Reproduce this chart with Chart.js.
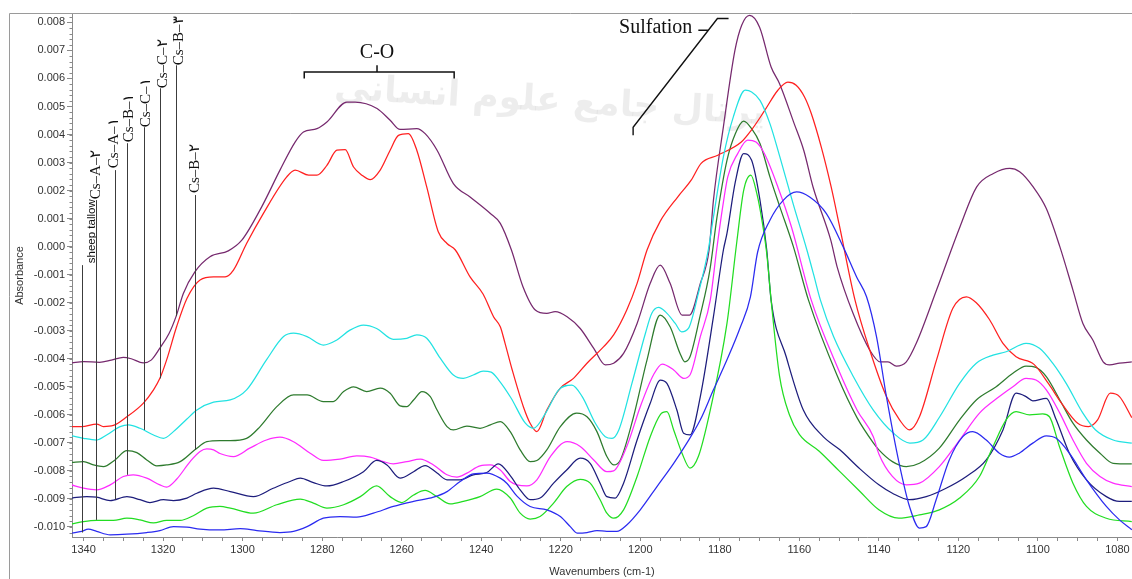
<!DOCTYPE html>
<html><head><meta charset="utf-8">
<script src="https://cdn.jsdelivr.net/npm/chart.js@4.4.0/dist/chart.umd.min.js"></script>
<style>html,body{margin:0;padding:0;background:#fff;overflow:hidden}#wrap{position:relative;width:1132px;height:579px}canvas{display:block}</style>
</head><body><div id="wrap"><canvas id="c" width="1132" height="579"></canvas></div>
<script>
// ---- Data: [wavenumber (cm-1), absorbance] ----
const sheepTallow = [[1343,-0.01022],[1340.5,-0.01016],[1338.8,-0.01008],[1336.7,-0.01016],[1333.3,-0.01028],[1329.1,-0.01026],[1324.1,-0.0102],[1320.8,-0.01013],[1317.4,-0.00999],[1314,-0.01001],[1310.7,-0.01008],[1305.7,-0.01011],[1300.6,-0.01006],[1296.4,-0.01013],[1290.6,-0.0102],[1287.2,-0.01016],[1283.8,-0.00999],[1279.7,-0.00969],[1275.5,-0.00963],[1271.3,-0.00965],[1267.1,-0.00951],[1262.1,-0.00927],[1257,-0.00909],[1252,-0.00894],[1248.6,-0.00874],[1245.3,-0.00838],[1242,-0.00811],[1238.6,-0.00808],[1235.2,-0.00826],[1233.5,-0.00845],[1231,-0.0089],[1227.7,-0.00927],[1223.5,-0.00939],[1220.1,-0.00963],[1217.6,-0.00999],[1215.9,-0.01022],[1213.4,-0.0102],[1210.9,-0.01013],[1208.4,-0.01016],[1205.9,-0.01016],[1203.4,-0.00993],[1200,-0.00939],[1195.8,-0.00856],[1191.6,-0.00773],[1188.3,-0.00701],[1184.9,-0.00618],[1181.6,-0.00511],[1178.2,-0.00404],[1174.8,-0.00286],[1172.3,-0.00179],[1170.5,-0.0002],[1167.4,0.00094],[1164,0.00166],[1160.7,0.00195],[1157.4,0.00177],[1153.2,0.00118],[1149,0.0],[1145.6,-0.00108],[1143.1,-0.00179],[1140.6,-0.00321],[1138.1,-0.00535],[1134.9,-0.00773],[1132.3,-0.00927],[1129.8,-0.01004],[1128.1,-0.00999],[1125.6,-0.00903],[1122.3,-0.00761],[1118.9,-0.00678],[1116.4,-0.0066],[1113,-0.0069],[1109.7,-0.00737],[1107.2,-0.00751],[1104.7,-0.00737],[1101.3,-0.00701],[1097.9,-0.00675],[1095.4,-0.00684],[1092.1,-0.00737],[1087.8,-0.00832],[1082.8,-0.00927],[1079.5,-0.00975],[1076.4,-0.0101]];
const csA2 = [[1343,-0.00989],[1340,-0.00981],[1336.7,-0.00977],[1332.5,-0.00977],[1329.1,-0.00969],[1325.8,-0.00975],[1322.4,-0.00986],[1319.1,-0.00977],[1315.7,-0.00977],[1312.4,-0.0096],[1309,-0.00933],[1305.7,-0.00927],[1303.1,-0.00933],[1297.3,-0.00951],[1291.4,-0.00921],[1285.5,-0.00901],[1282.2,-0.00915],[1278.8,-0.00933],[1274.6,-0.00921],[1270.4,-0.00892],[1266.3,-0.00854],[1262.9,-0.00892],[1260,-0.00913],[1257,-0.00886],[1254.1,-0.0087],[1251.1,-0.00892],[1247.8,-0.00918],[1244.5,-0.00909],[1240.3,-0.00892],[1236.1,-0.00865],[1232.7,-0.00897],[1230.2,-0.00951],[1227.7,-0.00972],[1225.2,-0.00963],[1221.8,-0.00915],[1218.5,-0.00856],[1215.1,-0.0083],[1212.6,-0.00844],[1210.1,-0.00903],[1208.4,-0.00951],[1206.7,-0.00969],[1204.2,-0.00939],[1200.8,-0.0082],[1197.5,-0.00678],[1195,-0.006],[1193.3,-0.00589],[1191.6,-0.00654],[1189.5,-0.00737],[1187.5,-0.0079],[1185.4,-0.00749],[1182.4,-0.00583],[1178.2,-0.00274],[1175.7,0.0002],[1174,0.00201],[1172.2,0.00255],[1170.7,0.0019],[1169.4,0.00094],[1168.2,-0.00024],[1167.1,-0.00191],[1165,-0.0046],[1162.5,-0.006],[1160,-0.0067],[1155,-0.0073],[1150,-0.008],[1145,-0.0087],[1140,-0.00939],[1135,-0.00969],[1129.8,-0.00957],[1124.8,-0.00939],[1119.7,-0.00897],[1114.7,-0.0082],[1111.3,-0.00713],[1108,-0.00618],[1105.5,-0.00589],[1102.1,-0.006],[1098.8,-0.00597],[1097.1,-0.00607],[1094.6,-0.00713],[1091.2,-0.00844],[1087.8,-0.00927],[1082.8,-0.00969],[1076.4,-0.00981]];
const csA1 = [[1343,-0.00897],[1339.2,-0.00892],[1336.7,-0.00894],[1333.3,-0.00906],[1329.1,-0.00892],[1325.8,-0.00903],[1323.3,-0.00913],[1319.9,-0.00903],[1317.4,-0.00906],[1314,-0.00897],[1311.5,-0.0088],[1307.3,-0.00862],[1303.1,-0.00874],[1297.3,-0.00892],[1292.3,-0.00862],[1288.1,-0.00838],[1285.5,-0.00826],[1282.2,-0.00842],[1278.8,-0.00854],[1274.6,-0.00838],[1269.6,-0.00803],[1266.3,-0.00763],[1263.7,-0.00779],[1260.4,-0.00826],[1257,-0.00803],[1254.1,-0.00781],[1251.1,-0.00808],[1248.6,-0.00832],[1245.3,-0.00832],[1242,-0.00814],[1238.6,-0.00806],[1235.7,-0.00775],[1232.7,-0.00817],[1230.2,-0.00868],[1227.7,-0.00903],[1225.2,-0.00897],[1221.8,-0.00844],[1218.5,-0.00797],[1215.1,-0.00755],[1212.6,-0.00773],[1210.1,-0.00844],[1208.4,-0.00892],[1206.3,-0.00897],[1204.2,-0.00844],[1200.8,-0.0069],[1197.5,-0.00559],[1195,-0.00476],[1193.3,-0.00488],[1190.8,-0.00583],[1189.1,-0.00666],[1187.5,-0.00672],[1184.9,-0.00535],[1181.6,-0.0025],[1179.1,-0.00012],[1178.2,0.00047],[1176.1,0.00231],[1174,0.00332],[1172,0.00308],[1169.9,0.00166],[1168.2,-0.00012],[1167.1,-0.00191],[1163.3,-0.00393],[1159,-0.00583],[1154,-0.00678],[1149.8,-0.00725],[1145,-0.0079],[1140,-0.0085],[1136.6,-0.0088],[1132.3,-0.00903],[1128.1,-0.00892],[1123.1,-0.00862],[1118,-0.0082],[1113,-0.00761],[1108.8,-0.00654],[1105.5,-0.00523],[1103,-0.00535],[1101.3,-0.0055],[1097.9,-0.00541],[1095.4,-0.00618],[1092.1,-0.00737],[1087.8,-0.00832],[1082.8,-0.00892],[1079.5,-0.00909],[1076.4,-0.00909]];
const csB1 = [[1343,-0.0085],[1340,-0.00862],[1336.7,-0.00868],[1333.3,-0.0085],[1330,-0.0082],[1327.5,-0.00814],[1324.1,-0.00826],[1320.8,-0.0085],[1319.1,-0.00858],[1316.6,-0.0083],[1313.2,-0.00767],[1310.7,-0.00731],[1309,-0.00722],[1307.3,-0.00725],[1305.7,-0.00738],[1302.3,-0.00749],[1298.2,-0.00719],[1294,-0.0069],[1290.6,-0.0068],[1287.2,-0.00696],[1283,-0.00737],[1279.7,-0.00763],[1275.5,-0.00758],[1271.3,-0.00747],[1267.9,-0.00751],[1264.6,-0.00767],[1262.1,-0.00775],[1258.7,-0.00767],[1255.3,-0.00758],[1252,-0.00779],[1248.6,-0.00814],[1246.1,-0.00822],[1243.6,-0.00808],[1240.3,-0.00782],[1237.7,-0.00779],[1235.2,-0.00797],[1232.7,-0.00838],[1231,-0.0085],[1228.5,-0.00854],[1226,-0.00832],[1222.6,-0.00749],[1218.4,-0.00696],[1215.1,-0.00713],[1211.7,-0.00761],[1208.4,-0.00803],[1206.7,-0.008],[1203.4,-0.00713],[1200,-0.00571],[1196.7,-0.00458],[1194.5,-0.00419],[1191.6,-0.0044],[1189.1,-0.0047],[1187.5,-0.00458],[1184.9,-0.00321],[1182.4,-0.00191],[1180.8,-0.00012],[1179.3,0.0014],[1178,0.00249],[1175.5,0.00332],[1173,0.0038],[1170.9,0.00373],[1168.8,0.00332],[1165.4,0.00213],[1162,0.00071],[1157,-0.00191],[1150.5,-0.00428],[1145.5,-0.00583],[1141.4,-0.00678],[1140,-0.0074],[1136.6,-0.0082],[1133.1,-0.0085],[1129.8,-0.00844],[1124.8,-0.00785],[1119.7,-0.0069],[1114.7,-0.00594],[1109.7,-0.00535],[1106.3,-0.005],[1103,-0.0047],[1100.5,-0.00476],[1097.9,-0.00511],[1094.5,-0.00594],[1091.2,-0.0069],[1087.8,-0.00773],[1084.4,-0.0082],[1081.1,-0.00844],[1076.4,-0.00856]];
const csC1 = [[1343,-0.00675],[1340,-0.00684],[1336.7,-0.0069],[1334.2,-0.00672],[1330.8,-0.00642],[1328.7,-0.00636],[1325.8,-0.00648],[1322.4,-0.00672],[1319.9,-0.00684],[1317.4,-0.0066],[1314,-0.00615],[1311.5,-0.00583],[1307.3,-0.00555],[1303.1,-0.00547],[1299,-0.00511],[1294,-0.00404],[1289.7,-0.00321],[1287.2,-0.00309],[1283.8,-0.00321],[1279.7,-0.00351],[1276.3,-0.00333],[1273,-0.00298],[1269.6,-0.0028],[1266.3,-0.00292],[1262.1,-0.00331],[1258.7,-0.00327],[1256.2,-0.00315],[1253.7,-0.00327],[1250.3,-0.00398],[1247,-0.00458],[1244.5,-0.0047],[1242,-0.00458],[1239.5,-0.00444],[1237.5,-0.00448],[1235.6,-0.00476],[1232.5,-0.0054],[1228.9,-0.0063],[1226.8,-0.00648],[1223.8,-0.00594],[1220.5,-0.00511],[1217.2,-0.00494],[1214.6,-0.00535],[1211.3,-0.0063],[1208.8,-0.00678],[1207.1,-0.00684],[1205.4,-0.00654],[1202.1,-0.00488],[1198.7,-0.00309],[1197.1,-0.00238],[1195.4,-0.00217],[1193.7,-0.00232],[1191.2,-0.00274],[1189.6,-0.00304],[1187.9,-0.00292],[1185.4,-0.00167],[1182.9,-0.00012],[1181.6,0.00106],[1179.1,0.0032],[1176.6,0.00463],[1173.6,0.00558],[1172,0.00552],[1169.9,0.00522],[1167.4,0.00439],[1164.9,0.0032],[1161.5,0.0015],[1158.1,-0.00012],[1156.4,-0.001],[1154.7,-0.00191],[1151.4,-0.00321],[1146.4,-0.00464],[1141.4,-0.00583],[1136.3,-0.00666],[1132.2,-0.00701],[1128.9,-0.0069],[1124.7,-0.00607],[1119.7,-0.00488],[1115.5,-0.00416],[1111.3,-0.00387],[1108,-0.00375],[1103,-0.00345],[1099.6,-0.00363],[1096.3,-0.00416],[1092.9,-0.00488],[1088.7,-0.00594],[1085.5,-0.00654],[1081.1,-0.0069],[1076.4,-0.00701]];
const csC2 = [[1343,-0.00642],[1340.5,-0.00642],[1336.7,-0.00633],[1335,-0.00642],[1332.5,-0.00638],[1329.1,-0.00607],[1325,-0.00559],[1322.4,-0.00511],[1320.8,-0.0047],[1319.1,-0.00404],[1316.6,-0.00286],[1314,-0.00185],[1310.7,-0.00119],[1307.3,-0.00108],[1304.4,-0.00108],[1302.3,-0.00084],[1299,0.00011],[1294.8,0.00118],[1288.9,0.00249],[1286.8,0.00273],[1283.4,0.00255],[1281.3,0.00255],[1278.8,0.0029],[1276.3,0.00344],[1274.2,0.00346],[1272.1,0.00284],[1270,0.00255],[1267.9,0.00239],[1265.4,0.00273],[1262.9,0.00344],[1260.8,0.00397],[1258.3,0.00403],[1256.2,0.00344],[1253.7,0.00213],[1250.8,0.00053],[1248.6,0.00011],[1246.5,-0.00012],[1242.8,-0.00108],[1239.5,-0.0017],[1236.9,-0.0025],[1235.2,-0.00286],[1234,-0.00345],[1232.2,-0.0044],[1229.4,-0.00571],[1227.7,-0.0063],[1226,-0.0066],[1223.5,-0.00583],[1220.1,-0.00505],[1216.8,-0.0047],[1213.4,-0.00416],[1209.2,-0.00357],[1206.7,-0.00315],[1203.4,-0.00226],[1200.8,-0.00131],[1198.3,-0.00012],[1195,0.0009],[1190.6,0.00177],[1187.2,0.00237],[1184.7,0.00297],[1180.5,0.00326],[1174.6,0.00373],[1172.1,0.00415],[1168.7,0.00486],[1165.4,0.00558],[1162.9,0.00587],[1160.8,0.00576],[1158.7,0.00534],[1157,0.00475],[1154.5,0.00356],[1152,0.00213],[1150,0.0008],[1146,-0.00191],[1142.3,-0.00369],[1138.1,-0.00535],[1134.8,-0.00618],[1132.3,-0.00654],[1129.8,-0.00607],[1125.5,-0.00404],[1121.4,-0.0022],[1118,-0.00179],[1115.5,-0.002],[1112.2,-0.0026],[1108.8,-0.00345],[1105.5,-0.00393],[1101,-0.0042],[1097.3,-0.0049],[1094,-0.0056],[1090,-0.0063],[1087.3,-0.00642],[1085,-0.00618],[1081.8,-0.00523],[1079.5,-0.00535],[1076.4,-0.0061]];
const csB3 = [[1343,-0.00415],[1340,-0.0041],[1336,-0.00413],[1333,-0.00405],[1330,-0.00395],[1328,-0.004],[1325,-0.00415],[1323,-0.00405],[1320.8,-0.00362],[1318.5,-0.0031],[1316.7,-0.00248],[1314.9,-0.00167],[1312,-0.0009],[1308.2,-0.00036],[1303.6,-0.00015],[1300.2,0.00023],[1295.2,0.00142],[1290.6,0.00273],[1286.8,0.00373],[1284.7,0.00409],[1281.3,0.00421],[1278.8,0.00445],[1273.8,0.00516],[1271.7,0.00516],[1266.2,0.00493],[1262.9,0.00451],[1260.4,0.00418],[1256.2,0.00421],[1254.1,0.00403],[1251.1,0.00344],[1247,0.00225],[1242.8,0.00177],[1237.7,0.00118],[1235.2,0.00083],[1232.4,-0.00012],[1229.5,-0.00143],[1226.4,-0.00226],[1223.5,-0.00238],[1221.4,-0.00232],[1218.4,-0.0025],[1215.1,-0.00292],[1211.7,-0.00363],[1208.8,-0.00422],[1206.7,-0.00416],[1204.2,-0.00381],[1200.8,-0.00274],[1197.5,-0.00131],[1195,-0.00066],[1192.5,-0.00131],[1189.5,-0.00244],[1187.6,-0.00244],[1184.9,-0.00131],[1182.7,-0.00012],[1181.6,0.00166],[1179.1,0.00427],[1176.2,0.007],[1174.5,0.0079],[1172.5,0.00825],[1170,0.00783],[1167.1,0.00641],[1165,0.00582],[1161.3,0.00439],[1158.9,0.00344],[1156.5,0.0021],[1152.1,0.00023],[1150.5,-0.00072],[1146.5,-0.00238],[1142.3,-0.00369],[1139.7,-0.00411],[1137.7,-0.00411],[1135.6,-0.00426],[1133.1,-0.00411],[1130.6,-0.00345],[1125.5,-0.00155],[1119.6,0.00071],[1115.4,0.00213],[1111.2,0.00261],[1107.1,0.00279],[1104.6,0.00267],[1101.2,0.00213],[1097.9,0.00136],[1094.5,0.0],[1091.2,-0.00155],[1088.7,-0.00274],[1086.2,-0.00333],[1083.6,-0.00411],[1082,-0.00422],[1079.5,-0.00416],[1076.4,-0.00411]];
const csB2 = [[1343,-0.0077],[1340,-0.00767],[1337.5,-0.00779],[1335,-0.00785],[1332.1,-0.00761],[1329.1,-0.00728],[1326.6,-0.00735],[1324.1,-0.00761],[1321.6,-0.00782],[1319.1,-0.00779],[1315.7,-0.00767],[1312,-0.00725],[1309,-0.00696],[1305.7,-0.00692],[1303.1,-0.00692],[1299,-0.00684],[1295.6,-0.00642],[1291.4,-0.00571],[1287.2,-0.00529],[1283.8,-0.00529],[1279.7,-0.00553],[1277.2,-0.00553],[1274.6,-0.00517],[1272.1,-0.005],[1268.8,-0.00517],[1265.4,-0.00505],[1262.9,-0.00523],[1260.4,-0.00568],[1258.7,-0.00571],[1257,-0.00547],[1254.9,-0.00517],[1252.8,-0.00535],[1251.1,-0.00583],[1248.6,-0.00642],[1247,-0.00654],[1243.6,-0.0064],[1240.3,-0.00648],[1237.7,-0.00636],[1235.2,-0.00624],[1232.7,-0.0066],[1230.2,-0.00725],[1227.7,-0.00767],[1226,-0.00763],[1223.5,-0.00725],[1220.1,-0.00642],[1216,-0.00594],[1213.4,-0.00607],[1210.9,-0.0066],[1208.4,-0.00749],[1206.7,-0.00779],[1205,-0.00761],[1201.7,-0.00607],[1198.3,-0.00404],[1195,-0.00244],[1192.5,-0.00286],[1190,-0.00381],[1188.8,-0.00411],[1187.5,-0.00393],[1185,-0.0025],[1182.5,-0.00084],[1180.7,0.00106],[1178.2,0.00308],[1176.1,0.00403],[1174,0.00448],[1172,0.00421],[1169.9,0.00368],[1167.4,0.00249],[1164.9,0.00142],[1161.5,0.0],[1157.7,-0.00191],[1150.5,-0.0046],[1145.5,-0.0061],[1141.4,-0.007],[1140,-0.00725],[1136.6,-0.00767],[1133.1,-0.00785],[1129.8,-0.00773],[1124.8,-0.00719],[1119.7,-0.00618],[1115.5,-0.00547],[1110.5,-0.005],[1106.3,-0.00452],[1103,-0.00426],[1100.5,-0.00431],[1097.9,-0.00464],[1094.5,-0.00547],[1091.2,-0.0063],[1087.8,-0.0069],[1084.4,-0.00737],[1081.1,-0.00773],[1076.4,-0.00775]];

// sample names (label text, drawn vertically) in the order of the callout lines
const sampleNames = ['sheep tallow', 'Cs–A–۲', 'Cs–A–۱', 'Cs–B–۱', 'Cs–C–۱', 'Cs–C–۲', 'Cs–B–۳', 'Cs–B–۲'];
const sampleSeries = [sheepTallow, csA2, csA1, csB1, csC1, csC2, csB3, csB2];
const sampleColors = ['#2b2bf0', '#22dd22', '#1d1d7c', '#ff2bff', '#22e2e2', '#ff2020', '#76296e', '#2e7b2e'];

// axis ranges
const X_MAX = 1342.9, X_MIN = 1076.35;
const Y_MIN = -0.01036, Y_MAX = 0.0083;

// callout geometry in data coordinates (wavenumber, absorbance)
const callouts = {
  lineWn:   [1340.4, 1336.9, 1332.1, 1329.1, 1324.8, 1320.8, 1316.7, 1312.0],
  lineTop:  [-0.00066, 0.00166, 0.00273, 0.00369, 0.00426, 0.00565, 0.00647, 0.00184],
  lineEnd:  [-0.0102, -0.00975, -0.00903, -0.00814, -0.00654, -0.0047, -0.00248, -0.00725],
  textWn:   [1338.0, 1336.9, 1332.2, 1328.6, 1324.3, 1320.0, 1316.0, 1312.0],
  textBase: [-0.00059, 0.00169, 0.0028, 0.00372, 0.00426, 0.00565, 0.00647, 0.00191]
};
const coBracket = { wnLeft: 1284.5, wnRight: 1246.8, wnMid: 1266.2, yBar: 0.00623, yFoot: 0.0060, yNeck: 0.00647, yText: 0.0069 };
const sulfation = { textRightWn: 1186.9, textY: 0.00782, dash: [1185.4, 1182.9, 0.00772],
  path: [[1201.8, 0.00397], [1201.8, 0.00426], [1180.6, 0.00814], [1177.8, 0.00814]] };

const datasets = sampleSeries.map((s, i) => ({
  label: sampleNames[i],
  data: s.map(p => ({ x: p[0], y: p[1] })),
  borderColor: sampleColors[i],
  borderWidth: 1.25,
  pointRadius: 0,
  fill: false,
  cubicInterpolationMode: 'monotone'
}));

const decor = {
  id: 'decor',
  beforeDatasetsDraw(chart) {
    const { ctx } = chart;
    ctx.save();
    // faint watermark
    ctx.translate(550, 102);
    ctx.rotate(0.06);
    ctx.font = 'bold 36px "DejaVu Sans"';
    ctx.fillStyle = 'rgba(0,0,0,0.07)';
    ctx.textAlign = 'center';
    ctx.textBaseline = 'middle';
    ctx.fillText('پرتال جامع علوم انسانی', 0, 0);
    ctx.restore();
  },
  afterDraw(chart) {
    const { ctx, chartArea, scales: { x, y } } = chart;
    ctx.save();
    // outer frame (top and left)
    ctx.strokeStyle = '#9a9a9a';
    ctx.lineWidth = 1;
    ctx.beginPath();
    ctx.moveTo(9.5, chart.height);
    ctx.lineTo(9.5, chartArea.top - 0.5);
    ctx.lineTo(chart.width, chartArea.top - 0.5);
    ctx.stroke();
    // minor ticks on y axis
    ctx.strokeStyle = '#8a8a8a';
    ctx.beginPath();
    for (let v = -0.0102; v <= Y_MAX; v += 0.0002) {
      const py = Math.round(y.getPixelForValue(v)) + 0.5;
      ctx.moveTo(chartArea.left - 2.5, py);
      ctx.lineTo(chartArea.left, py);
    }
    ctx.stroke();

    // sample callouts
    ctx.strokeStyle = '#3c3c3c';
    ctx.lineWidth = 1;
    ctx.fillStyle = '#111';
    sampleNames.forEach((name, i) => {
      const px = Math.round(x.getPixelForValue(callouts.lineWn[i])) + 0.5;
      ctx.beginPath();
      ctx.moveTo(px, y.getPixelForValue(callouts.lineTop[i]));
      ctx.lineTo(px, y.getPixelForValue(callouts.lineEnd[i]));
      ctx.stroke();
      ctx.save();
      ctx.translate(x.getPixelForValue(callouts.textWn[i]), y.getPixelForValue(callouts.textBase[i]));
      ctx.rotate(-Math.PI / 2);
      ctx.font = i === 0 ? '11.5px "Liberation Sans"' : '15px "Liberation Serif"';
      ctx.textAlign = 'left';
      ctx.textBaseline = 'middle';
      ctx.fillText(name, 0, 0);
      ctx.restore();
    });

    // C-O bracket
    ctx.strokeStyle = '#111';
    ctx.lineWidth = 1.5;
    const bl = x.getPixelForValue(coBracket.wnLeft), br = x.getPixelForValue(coBracket.wnRight), bm = x.getPixelForValue(coBracket.wnMid);
    const by = y.getPixelForValue(coBracket.yBar), bf = y.getPixelForValue(coBracket.yFoot), bn = y.getPixelForValue(coBracket.yNeck);
    ctx.beginPath();
    ctx.moveTo(bl, bf); ctx.lineTo(bl, by); ctx.lineTo(br, by); ctx.lineTo(br, bf);
    ctx.moveTo(bm, by); ctx.lineTo(bm, bn);
    ctx.stroke();
    ctx.font = '20px "Liberation Serif"';
    ctx.textAlign = 'center';
    ctx.textBaseline = 'middle';
    ctx.fillText('C-O', bm, y.getPixelForValue(coBracket.yText));

    // Sulfation callout
    ctx.textAlign = 'right';
    ctx.fillText('Sulfation', x.getPixelForValue(sulfation.textRightWn), y.getPixelForValue(sulfation.textY));
    ctx.lineWidth = 1.4;
    ctx.beginPath();
    ctx.moveTo(x.getPixelForValue(sulfation.dash[0]), y.getPixelForValue(sulfation.dash[2]));
    ctx.lineTo(x.getPixelForValue(sulfation.dash[1]), y.getPixelForValue(sulfation.dash[2]));
    sulfation.path.forEach((p, k) => {
      const px = x.getPixelForValue(p[0]), py = y.getPixelForValue(p[1]);
      if (k === 0) ctx.moveTo(px, py); else ctx.lineTo(px, py);
    });
    ctx.stroke();
    ctx.restore();
  }
};

const tickFont = { family: '"Liberation Sans", Arial, sans-serif', size: 11 };

new Chart(document.getElementById('c'), {
  type: 'line',
  data: { datasets },
  plugins: [decor],
  options: {
    responsive: false,
    animation: false,
    devicePixelRatio: 1,
    layout: { padding: { left: 0, right: 0, top: 14, bottom: 0 } },
    plugins: { legend: { display: false }, tooltip: { enabled: false } },
    scales: {
      x: {
        type: 'linear', reverse: true, min: X_MIN, max: X_MAX,
        ticks: {
          stepSize: 5, autoSkip: false, includeBounds: false, maxRotation: 0, padding: 2,
          font: tickFont, color: '#333',
          callback: v => (Math.round(v) % 20 === 0 ? String(Math.round(v)) : '')
        },
        grid: { display: true, drawOnChartArea: false, drawTicks: true, tickLength: 4, color: '#8a8a8a' },
        border: { display: true, color: '#8a8a8a', width: 1 },
        title: { display: true, text: 'Wavenumbers (cm-1)', font: tickFont, color: '#333', padding: { top: 0, bottom: 0 } },
        afterFit: s => { s.height = 42; }
      },
      y: {
        min: Y_MIN, max: Y_MAX,
        ticks: {
          stepSize: 0.001, includeBounds: false, padding: 2, font: tickFont, color: '#333',
          callback: v => { const r = Math.round(v * 1000) / 1000; return (Math.abs(r) < 1e-9 ? 0 : r).toFixed(3); }
        },
        grid: { display: true, drawOnChartArea: false, drawTicks: true, tickLength: 5, color: '#8a8a8a' },
        border: { display: true, color: '#8a8a8a', width: 1 },
        title: { display: true, text: 'Absorbance', font: tickFont, color: '#333', padding: { top: 13, bottom: 0 } },
        afterFit: s => { s.width = 72; }
      }
    }
  }
});
</script></body></html>
